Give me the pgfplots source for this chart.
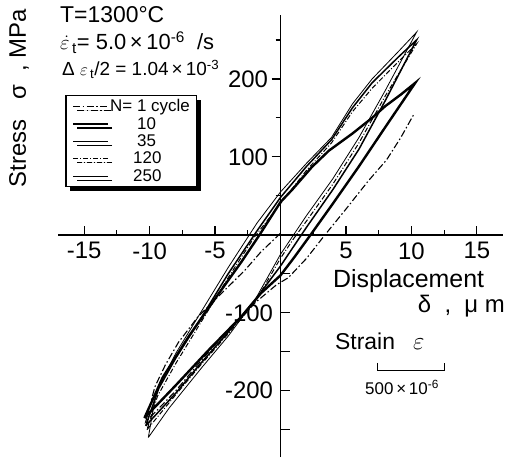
\documentclass[border=0pt]{standalone}
\usepackage{pgfplots}
\pgfplotsset{compat=1.18}
\usepackage{fontspec}
\setmainfont{Liberation Sans}
\usetikzlibrary{shadows}
\begin{document}
\begin{tikzpicture}
\useasboundingbox (0bp,0bp) rectangle (513bp,460bp);
\begin{axis}[
  at={(58bp,3bp)}, anchor=south west, scale only axis,
  width=445bp, height=442bp,
  xmin=-17, xmax=17, ymin=-285, ymax=282,
  axis lines=middle,
  axis line style={line width=1.6bp, -},
  every tick/.style={black, line width=1.2bp},
  major tick length=9bp, minor tick length=5bp,
  xtick={-15,-10,-5,0,5,10,15},
  xticklabels={-15,-10,-5,0,5,10,15},
  minor xtick={-12.5,-7.5,-2.5,2.5,7.5,12.5},
  xtick align=inside,
  ytick={100,200}, yticklabels={100,200},
  minor ytick={50,150,250},
  ytick align=outside,
  extra y ticks={-250,-200,-150,-100,-50},
  extra y tick labels={,-200,,-100,},
  extra y tick style={tick align=inside, yticklabel style={xshift=-4bp}},
  ticklabel style={font=\fontsize{24}{24}\selectfont},
  xticklabel style={yshift=-4bp},
  clip=false,
  legend cell align=left,
  legend style={at={(0.016,0.819)}, anchor=north west, draw=black, line width=1.4bp,
    fill=white, font=\fontsize{17}{17}\selectfont, row sep=2bp,
    inner xsep=6bp, inner ysep=3bp,
    drop shadow={shadow xshift=4bp, shadow yshift=-4bp, fill=black, opacity=1},
    nodes={inner sep=1bp}},
  legend image code/.code={\draw[#1] (0bp,0bp) -- (35bp,0bp);},
]
% N = 1
\addplot[black, line width=1.1bp, dash pattern=on 7bp off 2.5bp on 1.5bp off 2.5bp] coordinates {
(0,2) (-1.5,-22) (-2.7,-45) (-4.5,-75) (-6.3,-105) (-7.8,-138) (-8.8,-167) (-9.6,-195) (-10.3,-240)
(-9.6,-228) (-8,-200) (-6,-160) (-4,-122) (-2,-88) (-0.3,-64) (0.6,-55) (2,-30) (3.4,0)
(5,33) (6.7,69) (8.1,96) (9.2,125) (10.2,155)};
\addlegendentry{N= 1 cycle}
% N = 10
\addplot[black, line width=2.4bp] coordinates {
(-10.4,-235) (-8,-193) (-5.5,-148) (-3,-105) (-1.5,-75) (0,-52) (1,-30) (2.3,0) (4,40) (6,88) (8,138) (10.3,195)
(9.2,180) (8,165) (7,150) (5.5,130) (3.7,108) (2.4,87) (0.9,58) (0,42) (-1.6,0) (-3,-35) (-5,-82) (-7,-130) (-9,-183) (-10.4,-235)};
\addlegendentry{\hspace{27bp}10}
% N = 35
\addplot[black, line width=1.5bp] coordinates {
(-10.3,-245) (-8,-203) (-6,-163) (-4,-125) (-2,-85) (0,-40) (0.8,-20) (2,10) (4,58) (6,110) (8,172) (10.4,250)
(9,228) (7,195) (5.5,163) (3.9,122) (2,88) (0,48) (-1.8,5) (-4,-50) (-6,-105) (-8,-158) (-9.3,-197) (-10.3,-245)};
\addlegendentry{\hspace{27bp}35}
% N = 120
\addplot[black, line width=1bp, dash pattern=on 5bp off 2bp on 1bp off 2bp] coordinates {
(-10.2,-250) (-8,-205) (-6,-165) (-4,-127) (-2,-88) (0,-30) (1,-5) (2,18) (4,65) (6,118) (8,178) (10.4,245)
(9,222) (7,188) (5.5,158) (3.9,118) (2,83) (0,40) (-2,-3) (-4,-55) (-6,-110) (-8,-165) (-9.4,-207) (-10.2,-250)};
\addlegendentry{\hspace{23bp}120}
% N = 250
\addplot[black, line width=0.8bp] coordinates {
(-10.1,-260) (-8.5,-222) (-6,-170) (-4,-130) (-2,-85) (0,-25) (0.6,-10) (2,25) (4,72) (6,125) (8,185) (10.4,260)
(9,235) (7,200) (5.5,168) (3.9,125) (2,92) (0,55) (-1.8,15) (-4,-42) (-6,-97) (-8,-152) (-9.5,-202) (-10.1,-260)};
\addlegendentry{\hspace{23bp}250}
\end{axis}
% annotations
\node[anchor=base west, inner sep=0pt, font=\fontsize{23}{23}\selectfont] at (60bp,437bp) {T=1300°C};
\node[anchor=base west, inner sep=0pt, font=\fontsize{22}{22}\selectfont] at (60bp,410bp)
  {\(\dot{\varepsilon}\)\textsubscript{\,t}= 5.0\,×\,10\textsuperscript{-6}~~/s};
\node[anchor=base west, inner sep=0pt, font=\fontsize{19}{19}\selectfont] at (62bp,384bp)
  {Δ \(\varepsilon\)\textsubscript{\,t}/2 = 1.04\,×\,10\textsuperscript{-3}};
\node[rotate=90, inner sep=0pt, font=\fontsize{24}{24}\selectfont] at (19bp,362bp) {Stress~~~σ~~, MPa};
\node[anchor=base west, inner sep=0pt, font=\fontsize{25}{25}\selectfont] at (333bp,172bp) {Displacement};
\node[anchor=base east, inner sep=0pt, font=\fontsize{24}{24}\selectfont] at (505bp,147bp) {δ ~, ~μ m};
\node[anchor=base west, inner sep=0pt, font=\fontsize{23}{23}\selectfont] at (335bp,110bp) {Strain\hspace{18bp}\(\varepsilon\)};
\draw[line width=1bp] (377bp,97bp) -- (377bp,89bp) -- (444bp,89bp) -- (444bp,97bp);
\node[anchor=base west, inner sep=0pt, font=\fontsize{17}{17}\selectfont] at (365bp,65bp) {500\,×\,10\textsuperscript{-6}};
\end{tikzpicture}
\end{document}
